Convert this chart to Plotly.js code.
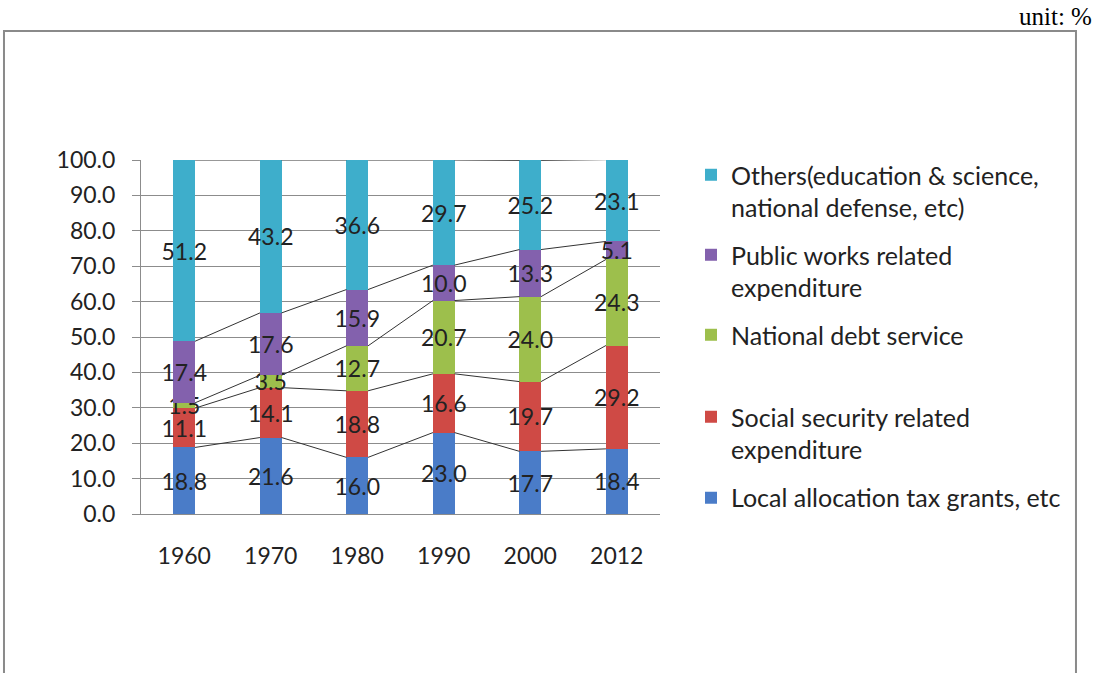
<!DOCTYPE html>
<html>
<head>
<meta charset="utf-8">
<script src="https://cdn.plot.ly/plotly-3.0.1.min.js"></script>
<style>
html,body{margin:0;padding:0;background:#fff;}
#chart{width:1099px;height:673px;}
</style>
</head>
<body>
<div id="chart"></div>
<script>
var years = ["1960", "1970", "1980", "1990", "2000", "2012"];
var localAllocation = [18.8, 21.6, 16.0, 23.0, 17.7, 18.4];
var socialSecurity = [11.1, 14.1, 18.8, 16.6, 19.7, 29.2];
var nationalDebt = [1.5, 3.5, 12.7, 20.7, 24.0, 24.3];
var publicWorks = [17.4, 17.6, 15.9, 10.0, 13.3, 5.1];
var others = [51.2, 43.2, 36.6, 29.7, 25.2, 23.1];

var seriesNames = [
  "Local allocation tax grants, etc",
  "Social security related<br>expenditure",
  "National debt service",
  "Public works related<br>expenditure",
  "Others(education &amp; science,<br>national defense, etc)"
];
var seriesData = [localAllocation, socialSecurity, nationalDebt, publicWorks, others];
var seriesColors = ["#4a7cc8", "#cf4a45", "#9dbf4c", "#8361ad", "#3eaecb"];
var legendIds = ["legend5", "legend4", "legend3", "legend2", "legend"];

var FONT = "Lato, 'Open Sans', sans-serif";
var xs = years.map(function(_, i){ return i; });
var BARW = 0.25;

var traces = [];
seriesData.forEach(function(vals, k){
  traces.push({
    type: "bar",
    x: xs,
    y: vals,
    width: BARW,
    name: seriesNames[k],
    legend: legendIds[k],
    marker: {color: seriesColors[k]},
    text: vals.map(function(v){ return v.toFixed(1); }),
    textposition: "inside",
    insidetextanchor: "middle",
    textangle: 0,
    constraintext: "none",
    textfont: {family: FONT, size: 23, color: "#222"},
    hoverinfo: "x+y+name"
  });
});

// series lines connecting tops of each stacked segment
var cum = years.map(function(){ return 0; });
seriesData.forEach(function(vals){
  cum = cum.map(function(c, i){ return c + vals[i]; });
  var lx = [], ly = [];
  for (var i = 0; i < xs.length - 1; i++) {
    lx.push(xs[i] + BARW / 2, xs[i + 1] - BARW / 2, null);
    ly.push(cum[i], cum[i + 1], null);
  }
  traces.push({
    type: "scatter", mode: "lines", x: lx, y: ly,
    line: {color: "#333", width: 1},
    showlegend: false, hoverinfo: "skip", connectgaps: false
  });
});

function legendAt(y){
  return {
    x: 1.0597, xanchor: "left", y: y, yanchor: "middle",
    valign: "top", bgcolor: "rgba(0,0,0,0)",
    font: {family: FONT, size: 25, color: "#222"},
    itemclick: false, itemdoubleclick: false
  };
}

var layout = {
  width: 1099, height: 673,
  margin: {l: 141, r: 439, t: 160, b: 159},
  paper_bgcolor: "#fff", plot_bgcolor: "#fff",
  barmode: "stack",
  showlegend: true,
  legend: legendAt(0.9124),
  legend2: legendAt(0.6864),
  legend3: legendAt(0.5056),
  legend4: legendAt(0.2288),
  legend5: legendAt(0.0452),
  xaxis: {
    range: [-0.5, 5.5],
    tickvals: xs, ticktext: years,
    showgrid: false, zeroline: false,
    showline: true, linecolor: "#8c8c8c", linewidth: 1,
    ticks: "", ticklabelstandoff: 21,
    tickfont: {family: FONT, size: 23, color: "#222"},
    fixedrange: true
  },
  yaxis: {
    range: [0, 100], dtick: 10, tickformat: ".1f",
    showgrid: true, gridcolor: "#8c8c8c", gridwidth: 1,
    zeroline: false,
    showline: true, linecolor: "#8c8c8c", linewidth: 1,
    ticks: "outside", ticklen: 8, tickcolor: "#8c8c8c",
    ticklabelstandoff: 12,
    tickfont: {family: FONT, size: 23, color: "#222"},
    fixedrange: true
  },
  shapes: [{
    type: "rect", xref: "paper", yref: "paper", layer: "below",
    x0: -0.264, x1: 1.8015, y0: -0.6, y1: 1.3644,
    line: {color: "#8a8a8a", width: 2}, fillcolor: "rgba(0,0,0,0)"
  }],
  annotations: [{
    xref: "paper", yref: "paper", x: 1.836, y: 1.405,
    xanchor: "right", yanchor: "middle", showarrow: false,
    text: "unit: %",
    font: {family: "'Liberation Serif', 'Times New Roman', serif", size: 25, color: "#000"}
  }]
};

Plotly.newPlot("chart", traces, layout, {displayModeBar: false, staticPlot: true});
</script>
</body>
</html>
